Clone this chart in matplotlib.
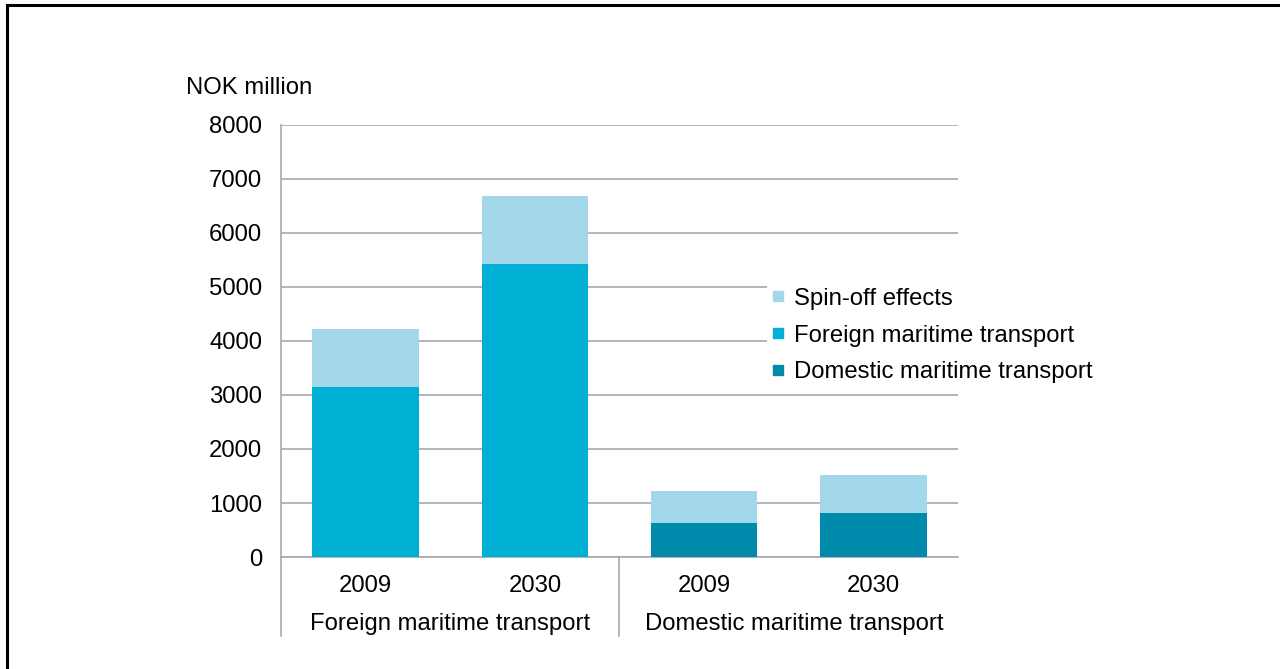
import matplotlib.pyplot as plt
from matplotlib.lines import Line2D

plt.rcParams['font.family'] = ['Liberation Sans', 'DejaVu Sans']

# Data (NOK million)
years = ["2009", "2030", "2009", "2030"]
groups = ["Foreign maritime transport", "Domestic maritime transport"]
foreign = [3150, 5430, 0, 0]
domestic = [0, 0, 630, 810]
spin_off = [1080, 1260, 590, 710]
yticks = [0, 1000, 2000, 3000, 4000, 5000, 6000, 7000, 8000]

c_spin = "#a3d7ea"
c_foreign = "#00afd4"
c_domestic = "#008bac"
grid_c = "#a9a9a9"
fs = 17.2

fig = plt.figure(figsize=(12.8, 6.69), dpi=100)
ax = fig.add_axes([0.2195, 0.1674, 0.5289, 0.6458])

x = list(range(len(years)))
w = 0.63
base = [f + d for f, d in zip(foreign, domestic)]
ax.bar(x, foreign, width=w, color=c_foreign, zorder=3)
ax.bar(x, domestic, width=w, color=c_domestic, zorder=3)
ax.bar(x, spin_off, width=w, bottom=base, color=c_spin, zorder=3)

ax.set_xlim(-0.5, 3.5)
ax.set_ylim(0, 8000)
ax.set_yticks(yticks)
ax.set_yticklabels([str(v) for v in yticks], fontsize=fs)
ax.tick_params(axis='y', length=0, pad=13.5)
ax.set_xticks([])
ax.yaxis.grid(True, color=grid_c, linewidth=1.2, zorder=0)
ax.set_axisbelow(True)
for s in ["top", "right"]:
    ax.spines[s].set_visible(False)
for s in ["left", "bottom"]:
    ax.spines[s].set_color(grid_c)
    ax.spines[s].set_linewidth(1.2)

# category labels
for xi, yr in zip(x, years):
    ax.text(xi, -0.068, yr, transform=ax.get_xaxis_transform(),
            ha='center', va='center', fontsize=fs)
for gi, g in enumerate(groups):
    ax.text(0.5 + 2.03 * gi, -0.155, g, transform=ax.get_xaxis_transform(),
            ha='center', va='center', fontsize=fs)
for xs in [-0.5, 1.5]:
    ax.add_line(Line2D([xs, xs], [0, -0.183], transform=ax.get_xaxis_transform(),
                       color=grid_c, linewidth=1.2, clip_on=False))

fig.text(186 / 1280, 1 - 88 / 669, "NOK million", ha='left', va='center', fontsize=fs)

handles = [Line2D([], [], marker='s', linestyle='none', markersize=7, color=c)
           for c in [c_spin, c_foreign, c_domestic]]
labels = ["Spin-off effects", "Foreign maritime transport", "Domestic maritime transport"]
leg = fig.legend(handles, labels, loc='upper left',
                 bbox_to_anchor=(767 / 1280, 1 - 283 / 669), fontsize=fs,
                 frameon=True, facecolor='white', edgecolor='none', framealpha=1,
                 handlelength=0.55, handletextpad=0.4, labelspacing=0.62,
                 borderpad=0.2, borderaxespad=0)
leg.set_zorder(5)

# partial frame around the figure
fig.add_artist(Line2D([7 / 1280, 7 / 1280], [0, 1 - 5 / 669], transform=fig.transFigure,
                      color='black', linewidth=2.2))
fig.add_artist(Line2D([7 / 1280, 1], [1 - 5 / 669, 1 - 5 / 669], transform=fig.transFigure,
                      color='black', linewidth=2.2))

fig.savefig("out.png", dpi=100)
